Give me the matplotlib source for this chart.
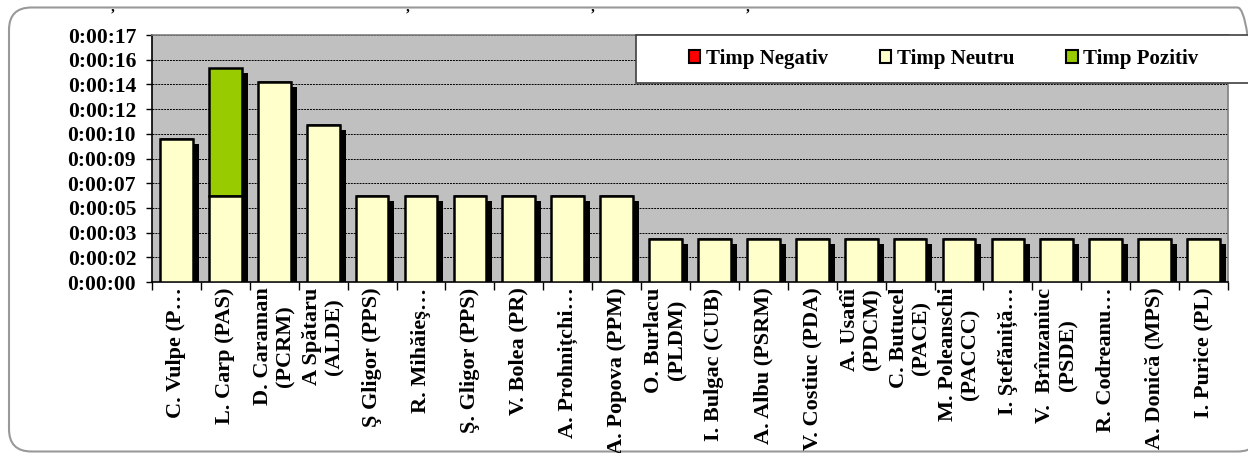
import numpy as np
import matplotlib
matplotlib.use("Agg")
import matplotlib.pyplot as plt
from matplotlib import patheffects as pe
from matplotlib.patches import FancyBboxPatch, Rectangle, Patch
from matplotlib.ticker import MultipleLocator, FuncFormatter

# Data (seconds)
names = ["C. Vulpe (P…", "L. Carp (PAS)", "D. Caraman\n(PCRM)", "A Spătaru\n(ALDE)",
         "Ş Gligor (PPS)", "R. Mihăieş…", "Ş. Gligor (PPS)", "V. Bolea (PR)",
         "A. Prohnițchi…", "A. Popova (PPM)", "O. Burlacu\n(PLDM)", "I. Bulgac (CUB)",
         "A. Albu (PSRM)", "V. Costiuc (PDA)", "A. Usatîi\n(PDCM)", "C. Butucel\n(PACE)",
         "M. Poleanschi\n(PACCC)", "I. Ştefăniță…", "V.  Brînzaniuc\n(PSDE)", "R. Codreanu…",
         "A. Donică (MPS)", "I. Purice (PL)"]
negativ = [0] * 22
neutru = [10, 6, 14, 11, 6, 6, 6, 6, 6, 6, 3, 3, 3, 3, 3, 3, 3, 3, 3, 3, 3, 3]
pozitiv = [0, 9, 0, 0, 0, 0, 0, 0, 0, 0, 0, 0, 0, 0, 0, 0, 0, 0, 0, 0, 0, 0]

c_neg = "#FF0000"
c_neu = "#FFFFCC"
c_poz = "#99CC00"

plt.rcParams['font.family'] = ['Liberation Serif', 'DejaVu Serif']
plt.rcParams['font.weight'] = 'bold'

W, H = 1248, 453
fig = plt.figure(figsize=(W / 100, H / 100), dpi=100)
ax = fig.add_axes([152 / W, 1 - 282 / H, (1228 - 152) / W, (282 - 35) / H])
ax.set_facecolor("#C0C0C0")

x = np.arange(len(names))
shadow = [pe.SimplePatchShadow(offset=(4.3, -3.6), shadow_rgbFace="black", alpha=1.0), pe.Normal()]
bw = 0.67
neg = np.array(negativ, float)
neu = np.array(neutru, float)
poz = np.array(pozitiv, float)
ax.bar(x, poz, bw, bottom=neg + neu, color=c_poz, edgecolor="black", lw=1.8,
       zorder=2, path_effects=shadow)
ax.bar(x, neu, bw, bottom=neg, color=c_neu, edgecolor="black", lw=1.8,
       zorder=3, path_effects=shadow)

step = 1.728
ax.set_ylim(0, 10 * step)
ax.set_xlim(-0.5, len(names) - 0.5)
ax.yaxis.set_major_locator(MultipleLocator(step))
ax.yaxis.set_major_formatter(FuncFormatter(lambda v, p: "0:00:%02d" % int(round(v))))
ax.grid(axis="y", color="black", lw=0.7, ls=(0, (2, 1)), zorder=1)
ax.set_axisbelow(True)

ax.set_xticks(np.arange(len(names) + 1) - 0.5)
ax.set_xticklabels([])
ax.set_xticks(x, minor=True)
ax.set_xticklabels(names, minor=True, rotation=90, fontsize=16, fontweight="bold",
                   linespacing=1.2, va="top", ha="center")
ax.tick_params(axis="x", which="major", length=6, width=1, direction="out")
ax.tick_params(axis="x", which="minor", length=0, pad=4)
ax.tick_params(axis="y", length=4.5, width=1, labelsize=15.5, pad=7)

for s in ["left", "bottom"]:
    ax.spines[s].set_color("black")
    ax.spines[s].set_linewidth(1.2)
for s in ["top", "right"]:
    ax.spines[s].set_color("#808080")
    ax.spines[s].set_linewidth(1.2)

# outer rounded frame
frame = FancyBboxPatch((9 / W, 1.5 / H), (1260 - 9) / W, (452 - 8) / H,
                       boxstyle="round,pad=0,rounding_size=0.018",
                       transform=fig.transFigure, facecolor="none",
                       edgecolor="#999999", lw=1.5, zorder=0, mutation_aspect=W / H)
fig.add_artist(frame)

# legend box
box = Rectangle((636 / W, 1 - 83 / H), (1260 - 636) / W, 48 / H,
                transform=fig.transFigure, facecolor="white", edgecolor="#404040",
                lw=1.2, zorder=5)
fig.add_artist(box)
handles = [Patch(facecolor=c_neg, edgecolor="black", lw=1.5, label="Timp Negativ"),
           Patch(facecolor=c_neu, edgecolor="black", lw=1.5, label="Timp Neutru"),
           Patch(facecolor=c_poz, edgecolor="black", lw=1.5, label="Timp Pozitiv")]
leg = fig.legend(handles=handles, loc="center left", bbox_to_anchor=(689 / W, 1 - 59 / H),
                 ncol=3, frameon=False, fontsize=15, handlelength=0.55, handleheight=0.55,
                 handletextpad=0.25, columnspacing=2.5, borderpad=0, borderaxespad=0)
leg.set_zorder(6)
for t in leg.get_texts():
    t.set_fontweight("bold")

# cut-off text from above the chart
for px in [113, 408, 593, 748]:
    fig.text(px / W, 1 - 1 / H, ",", fontsize=11, ha="center", va="top")

fig.savefig("out.png", dpi=100)
